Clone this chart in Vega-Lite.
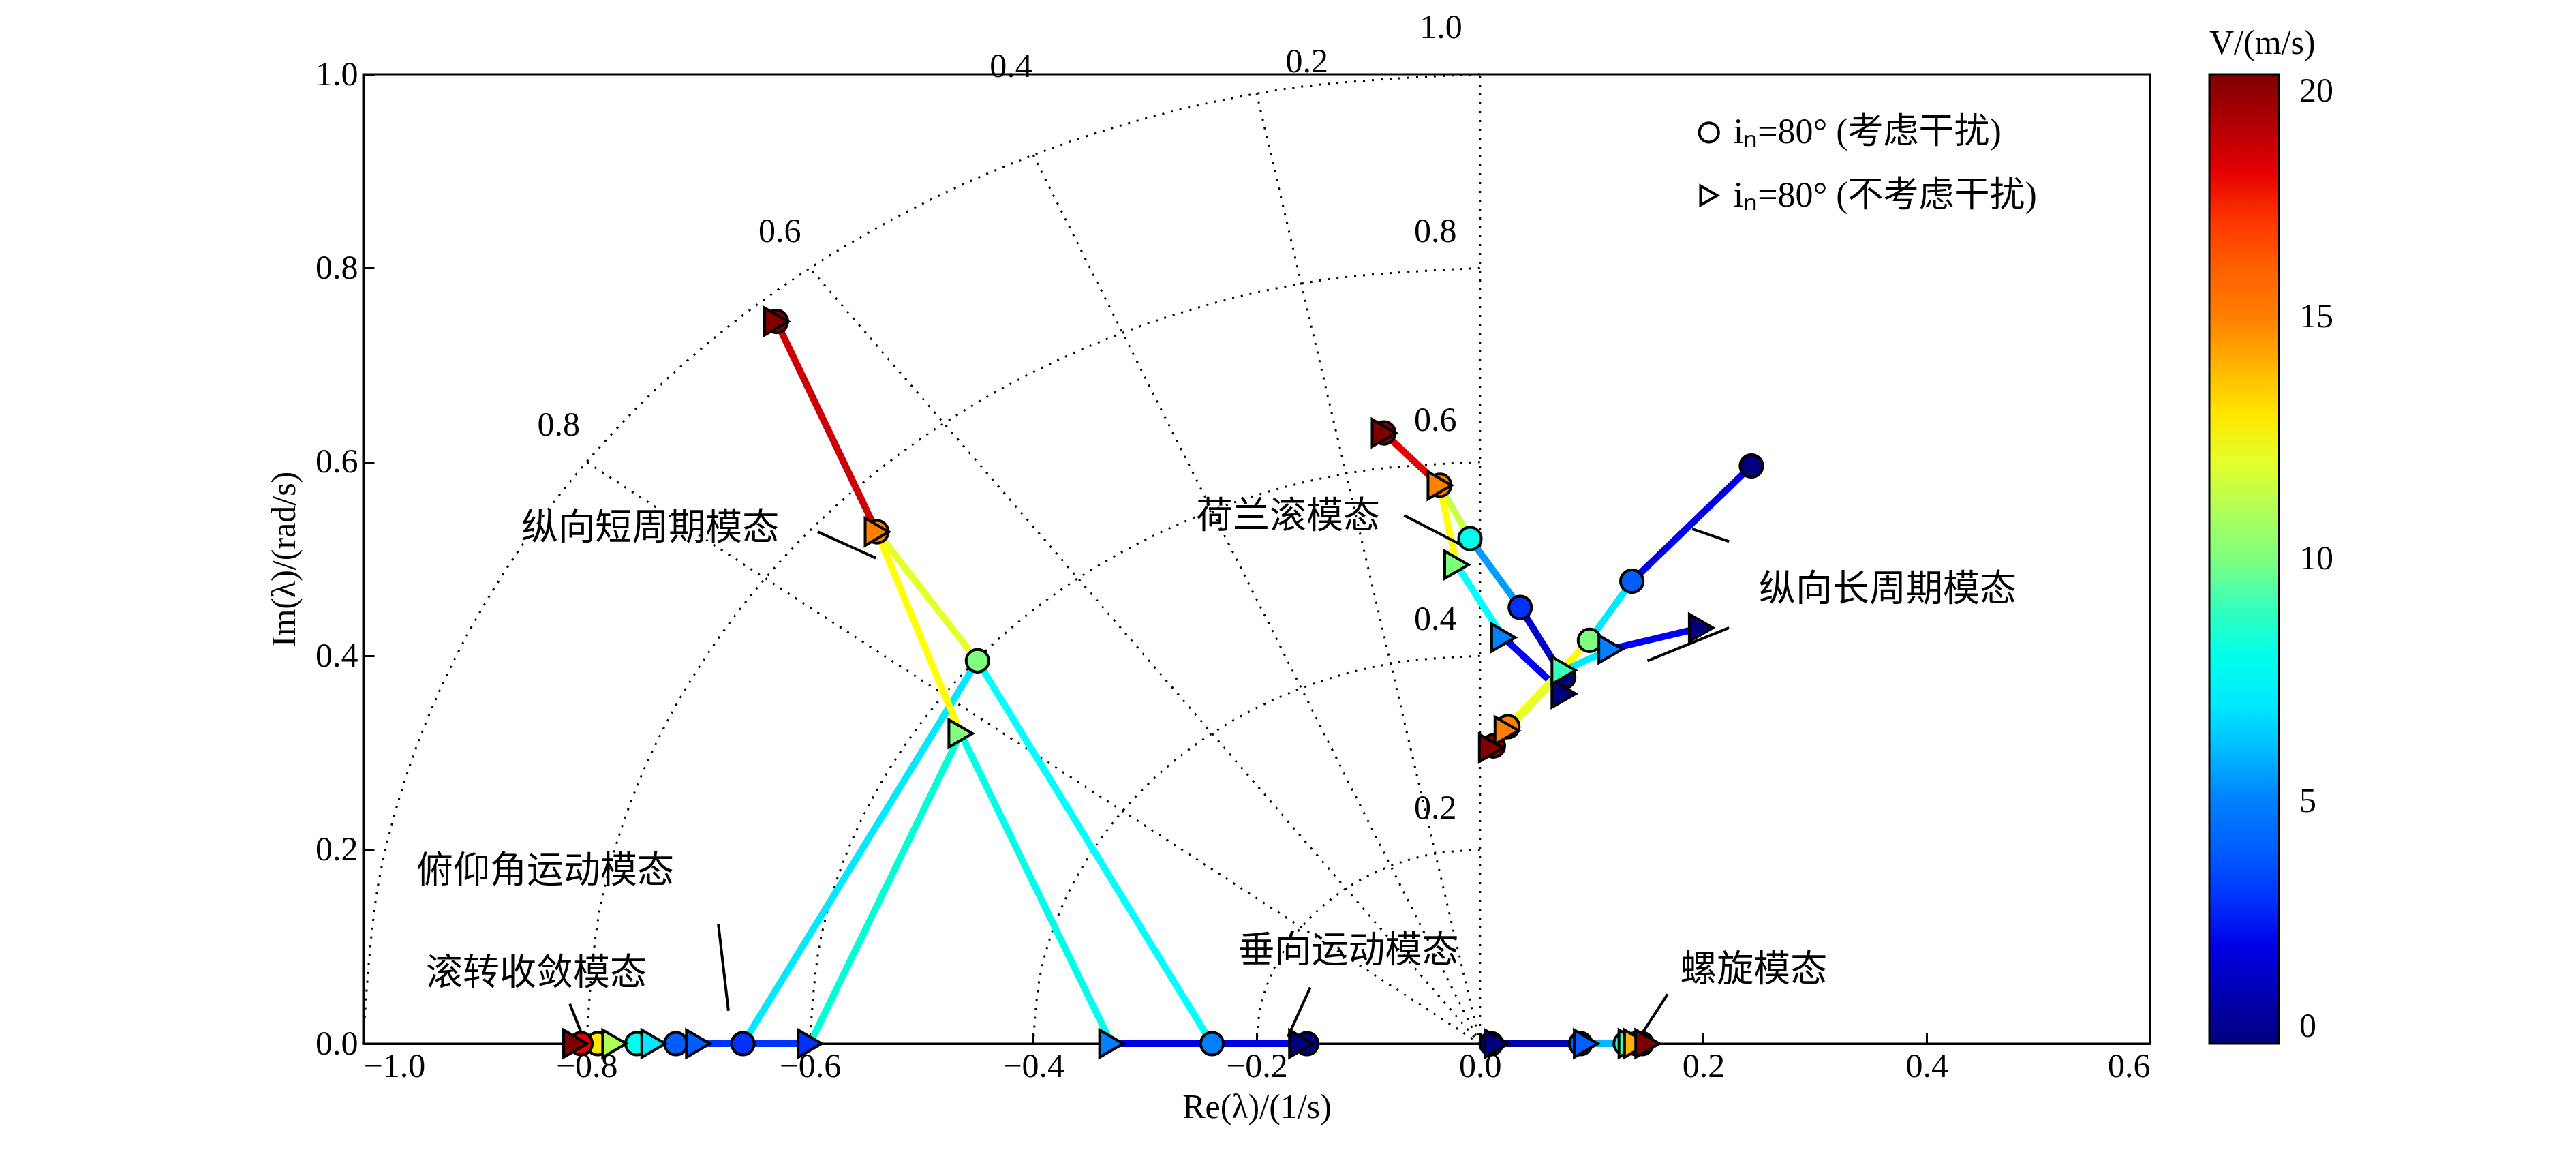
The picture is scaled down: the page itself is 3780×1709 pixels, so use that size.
{
  "$schema": "https://vega.github.io/schema/vega-lite/v6.json",
  "autosize": "none",
  "width": 2622,
  "height": 1422,
  "padding": {"left": 533, "top": 109, "right": 625, "bottom": 178},
  "background": "white",
  "config": {
    "view": {"stroke": "black", "strokeWidth": 3},
    "font": "Liberation Serif",
    "axis": {
      "labelFont": "Liberation Serif", "labelFontSize": 50, "labelColor": "black",
      "titleFont": "Liberation Serif", "titleFontSize": 50, "titleColor": "black", "titleFontWeight": "normal",
      "domainColor": "black", "domainWidth": 3, "tickColor": "black", "tickWidth": 3, "tickSize": -16,
      "grid": false, "labelPadding": 24
    }
  },
  "resolve": {"scale": {"color": "independent", "fill": "independent"}, "legend": {"color": "independent", "fill": "independent"}},
  "datasets": {
    "grid": [
      {"r":0.2,"a":0,"gx":0,"gy":0.2},{"r":0.2,"a":1,"gx":-0.0348,"gy":0.197},{"r":0.2,"a":2,"gx":-0.0684,"gy":0.188},{"r":0.2,"a":3,"gx":-0.1,"gy":0.1732},{"r":0.2,"a":4,"gx":-0.1286,"gy":0.1532},{"r":0.2,"a":5,"gx":-0.1532,"gy":0.1286},{"r":0.2,"a":6,"gx":-0.1732,"gy":0.1},{"r":0.2,"a":7,"gx":-0.188,"gy":0.0684},{"r":0.2,"a":8,"gx":-0.197,"gy":0.0348},{"r":0.2,"a":9,"gx":-0.2,"gy":0},
      {"r":0.4,"a":0,"gx":0,"gy":0.4},{"r":0.4,"a":1,"gx":-0.0696,"gy":0.394},{"r":0.4,"a":2,"gx":-0.1368,"gy":0.376},{"r":0.4,"a":3,"gx":-0.2,"gy":0.3464},{"r":0.4,"a":4,"gx":-0.2572,"gy":0.3064},{"r":0.4,"a":5,"gx":-0.3064,"gy":0.2572},{"r":0.4,"a":6,"gx":-0.3464,"gy":0.2},{"r":0.4,"a":7,"gx":-0.376,"gy":0.1368},{"r":0.4,"a":8,"gx":-0.394,"gy":0.0696},{"r":0.4,"a":9,"gx":-0.4,"gy":0},
      {"r":0.6,"a":0,"gx":0,"gy":0.6},{"r":0.6,"a":1,"gx":-0.1044,"gy":0.591},{"r":0.6,"a":2,"gx":-0.2052,"gy":0.564},{"r":0.6,"a":3,"gx":-0.3,"gy":0.5196},{"r":0.6,"a":4,"gx":-0.3858,"gy":0.4596},{"r":0.6,"a":5,"gx":-0.4596,"gy":0.3858},{"r":0.6,"a":6,"gx":-0.5196,"gy":0.3},{"r":0.6,"a":7,"gx":-0.564,"gy":0.2052},{"r":0.6,"a":8,"gx":-0.591,"gy":0.1044},{"r":0.6,"a":9,"gx":-0.6,"gy":0},
      {"r":0.8,"a":0,"gx":0,"gy":0.8},{"r":0.8,"a":1,"gx":-0.1392,"gy":0.788},{"r":0.8,"a":2,"gx":-0.2736,"gy":0.752},{"r":0.8,"a":3,"gx":-0.4,"gy":0.6928},{"r":0.8,"a":4,"gx":-0.5144,"gy":0.6128},{"r":0.8,"a":5,"gx":-0.6128,"gy":0.5144},{"r":0.8,"a":6,"gx":-0.6928,"gy":0.4},{"r":0.8,"a":7,"gx":-0.752,"gy":0.2736},{"r":0.8,"a":8,"gx":-0.788,"gy":0.1392},{"r":0.8,"a":9,"gx":-0.8,"gy":0},
      {"r":1.0,"a":0,"gx":0,"gy":1.0},{"r":1.0,"a":1,"gx":-0.174,"gy":0.985},{"r":1.0,"a":2,"gx":-0.342,"gy":0.94},{"r":1.0,"a":3,"gx":-0.5,"gy":0.866},{"r":1.0,"a":4,"gx":-0.643,"gy":0.766},{"r":1.0,"a":5,"gx":-0.766,"gy":0.643},{"r":1.0,"a":6,"gx":-0.866,"gy":0.5},{"r":1.0,"a":7,"gx":-0.94,"gy":0.342},{"r":1.0,"a":8,"gx":-0.985,"gy":0.174},{"r":1.0,"a":9,"gx":-1.0,"gy":0}
    ],
    "rays": [
      {"x":0,"y":0,"x2":0,"y2":1.0},
      {"x":0,"y":0,"x2":-0.2,"y2":0.98},
      {"x":0,"y":0,"x2":-0.4,"y2":0.9165},
      {"x":0,"y":0,"x2":-0.6,"y2":0.8},
      {"x":0,"y":0,"x2":-0.8,"y2":0.6}
    ],
    "glabels": [
      {"t":"1.0","x":-0.035,"y":1.03},
      {"t":"0.8","x":-0.04,"y":0.82},
      {"t":"0.6","x":-0.04,"y":0.625},
      {"t":"0.4","x":-0.04,"y":0.42},
      {"t":"0.2","x":-0.04,"y":0.225},
      {"t":"0.2","x":-0.155,"y":0.995},
      {"t":"0.4","x":-0.42,"y":0.99},
      {"t":"0.6","x":-0.627,"y":0.82},
      {"t":"0.8","x":-0.825,"y":0.62}
    ],
    "segs": [
      {"x":-0.63,"y":0.745,"x2":-0.54,"y2":0.528,"v":18.5},
      {"x":-0.54,"y":0.528,"x2":-0.45,"y2":0.395,"v":12},
      {"x":-0.45,"y":0.395,"x2":-0.66,"y2":0,"v":7},
      {"x":-0.45,"y":0.395,"x2":-0.24,"y2":0,"v":7.5},
      {"x":-0.24,"y":0,"x2":-0.155,"y2":0,"v":2},
      {"x":-0.54,"y":0.528,"x2":-0.465,"y2":0.32,"v":12.5},
      {"x":-0.465,"y":0.32,"x2":-0.6,"y2":0,"v":8.5},
      {"x":-0.465,"y":0.32,"x2":-0.33,"y2":0,"v":8},
      {"x":-0.33,"y":0,"x2":-0.16,"y2":0,"v":2},
      {"x":-0.6,"y":0,"x2":-0.7,"y2":0,"v":3},
      {"x":-0.7,"y":0,"x2":-0.74,"y2":0,"v":5.5},
      {"x":-0.74,"y":0,"x2":-0.775,"y2":0,"v":9},
      {"x":-0.775,"y":0,"x2":-0.795,"y2":0,"v":13},
      {"x":-0.795,"y":0,"x2":-0.81,"y2":0,"v":19},
      {"x":-0.086,"y":0.63,"x2":-0.036,"y2":0.576,"v":18},
      {"x":-0.036,"y":0.576,"x2":-0.009,"y2":0.521,"v":11.5},
      {"x":-0.009,"y":0.521,"x2":0.036,"y2":0.45,"v":5.5},
      {"x":0.036,"y":0.45,"x2":0.075,"y2":0.378,"v":1.5},
      {"x":-0.036,"y":0.576,"x2":-0.021,"y2":0.494,"v":12.5},
      {"x":-0.021,"y":0.494,"x2":0.021,"y2":0.419,"v":7.5},
      {"x":0.021,"y":0.419,"x2":0.075,"y2":0.361,"v":2.5},
      {"x":0.243,"y":0.596,"x2":0.136,"y2":0.477,"v":2},
      {"x":0.136,"y":0.477,"x2":0.098,"y2":0.416,"v":7},
      {"x":0.098,"y":0.416,"x2":0.025,"y2":0.327,"v":12.5},
      {"x":0.025,"y":0.327,"x2":0.012,"y2":0.307,"v":17.5},
      {"x":0.198,"y":0.429,"x2":0.117,"y2":0.407,"v":2.5},
      {"x":0.117,"y":0.407,"x2":0.075,"y2":0.385,"v":7},
      {"x":0.075,"y":0.385,"x2":0.024,"y2":0.323,"v":12},
      {"x":0.024,"y":0.323,"x2":0.01,"y2":0.305,"v":17.5},
      {"x":0.01,"y":0,"x2":0.09,"y2":0,"v":1},
      {"x":0.09,"y":0,"x2":0.13,"y2":0,"v":6},
      {"x":0.13,"y":0,"x2":0.14,"y2":0,"v":11},
      {"x":0.14,"y":0,"x2":0.15,"y2":0,"v":17}
    ],
    "pts": [
      {"s":"c","x":-0.63,"y":0.745,"v":20},{"s":"c","x":-0.54,"y":0.528,"v":15},{"s":"c","x":-0.45,"y":0.395,"v":10},
      {"s":"c","x":-0.24,"y":0,"v":5},{"s":"c","x":-0.155,"y":0,"v":0},
      {"s":"c","x":-0.66,"y":0,"v":3},{"s":"c","x":-0.72,"y":0,"v":4},{"s":"c","x":-0.755,"y":0,"v":8},{"s":"c","x":-0.79,"y":0,"v":13},{"s":"c","x":-0.805,"y":0,"v":18},
      {"s":"c","x":-0.086,"y":0.63,"v":20},{"s":"c","x":-0.036,"y":0.576,"v":15},{"s":"c","x":-0.009,"y":0.521,"v":8},{"s":"c","x":0.036,"y":0.45,"v":3},{"s":"c","x":0.075,"y":0.378,"v":0},
      {"s":"c","x":0.243,"y":0.596,"v":0},{"s":"c","x":0.136,"y":0.477,"v":4},{"s":"c","x":0.098,"y":0.416,"v":10},{"s":"c","x":0.025,"y":0.327,"v":15},{"s":"c","x":0.012,"y":0.307,"v":20},
      {"s":"c","x":0.01,"y":0,"v":0},{"s":"c","x":0.09,"y":0,"v":4},{"s":"c","x":0.13,"y":0,"v":9},{"s":"c","x":0.14,"y":0,"v":14},{"s":"c","x":0.145,"y":0,"v":20},
      {"s":"t","x":-0.63,"y":0.745,"v":20},{"s":"t","x":-0.54,"y":0.528,"v":15},{"s":"t","x":-0.465,"y":0.32,"v":10},
      {"s":"t","x":-0.33,"y":0,"v":5},{"s":"t","x":-0.16,"y":0,"v":0},
      {"s":"t","x":-0.6,"y":0,"v":3},{"s":"t","x":-0.7,"y":0,"v":4},{"s":"t","x":-0.74,"y":0,"v":7},{"s":"t","x":-0.775,"y":0,"v":11},{"s":"t","x":-0.81,"y":0,"v":20},
      {"s":"t","x":-0.086,"y":0.63,"v":20},{"s":"t","x":-0.036,"y":0.576,"v":15},{"s":"t","x":-0.021,"y":0.494,"v":10},{"s":"t","x":0.021,"y":0.419,"v":5},{"s":"t","x":0.075,"y":0.361,"v":0},
      {"s":"t","x":0.198,"y":0.429,"v":0},{"s":"t","x":0.117,"y":0.407,"v":5},{"s":"t","x":0.075,"y":0.385,"v":9},{"s":"t","x":0.024,"y":0.323,"v":15},{"s":"t","x":0.01,"y":0.305,"v":20},
      {"s":"t","x":0.015,"y":0,"v":0},{"s":"t","x":0.095,"y":0,"v":4},{"s":"t","x":0.135,"y":0,"v":9},{"s":"t","x":0.14,"y":0,"v":14},{"s":"t","x":0.15,"y":0,"v":20}
    ],
    "notes": [
      {"t":"纵向短周期模态","x":-0.743,"y":0.531},
      {"t":"荷兰滚模态","x":-0.172,"y":0.543},
      {"t":"纵向长周期模态","x":0.365,"y":0.468},
      {"t":"俯仰角运动模态","x":-0.837,"y":0.177},
      {"t":"滚转收敛模态","x":-0.845,"y":0.072},
      {"t":"垂向运动模态","x":-0.118,"y":0.095},
      {"t":"螺旋模态","x":0.245,"y":0.075}
    ],
    "leaders": [
      {"x":-0.593,"y":0.528,"x2":-0.541,"y2":0.501},
      {"x":-0.068,"y":0.545,"x2":-0.016,"y2":0.514},
      {"x":0.19,"y":0.531,"x2":0.223,"y2":0.518},
      {"x":0.15,"y":0.395,"x2":0.223,"y2":0.429},
      {"x":-0.682,"y":0.123,"x2":-0.673,"y2":0.034},
      {"x":-0.815,"y":0.041,"x2":-0.805,"y2":0.012},
      {"x":-0.152,"y":0.058,"x2":-0.172,"y2":0.007},
      {"x":0.168,"y":0.051,"x2":0.146,"y2":0.012}
    ],
    "leg": [
      {"s":"c","x":0.205,"y":0.94,"t":"iₙ=80° (考虑干扰)"},
      {"s":"t","x":0.205,"y":0.875,"t":"iₙ=80° (不考虑干扰)"}
    ]
  },
  "layer": [
    {
      "data": {"name": "grid"},
      "mark": {"type": "line", "color": "black", "strokeWidth": 3, "strokeDash": [3, 10], "interpolate": "cardinal"},
      "encoding": {
        "x": {"field": "gx", "type": "quantitative", "scale": {"domain": [-1, 0.6], "nice": false}, "axis": {"values": [-1, -0.8, -0.6, -0.4, -0.2, 0, 0.2, 0.4, 0.6], "format": ".1f", "title": "Re(λ)/(1/s)", "titlePadding": 10}},
        "y": {"field": "gy", "type": "quantitative", "scale": {"domain": [0, 1], "nice": false}, "axis": {"values": [0, 0.2, 0.4, 0.6, 0.8, 1.0], "format": ".1f", "title": "Im(λ)/(rad/s)", "titlePadding": 20}},
        "detail": {"field": "r"},
        "order": {"field": "a"}
      }
    },
    {
      "data": {"name": "rays"},
      "mark": {"type": "rule", "color": "black", "strokeWidth": 3, "strokeDash": [3, 10]},
      "encoding": {"x": {"field": "x", "type": "quantitative"}, "y": {"field": "y", "type": "quantitative"}, "x2": {"field": "x2"}, "y2": {"field": "y2"}}
    },
    {
      "data": {"name": "glabels"},
      "mark": {"type": "text", "fontSize": 50, "font": "Liberation Serif", "baseline": "bottom"},
      "encoding": {"x": {"field": "x", "type": "quantitative"}, "y": {"field": "y", "type": "quantitative"}, "text": {"field": "t"}}
    },
    {
      "data": {"name": "segs"},
      "mark": {"type": "rule", "strokeWidth": 10, "strokeCap": "round"},
      "encoding": {
        "x": {"field": "x", "type": "quantitative"}, "y": {"field": "y", "type": "quantitative"}, "x2": {"field": "x2"}, "y2": {"field": "y2"},
        "color": {"field": "v", "type": "quantitative", "scale": {"domain": [0, 20], "range": ["#00007f", "#0000ff", "#007fff", "#00ffff", "#7fff7f", "#ffff00", "#ff7f00", "#ff0000", "#7f0000"]}, "legend": null}
      }
    },
    {
      "data": {"name": "pts"},
      "mark": {"type": "point", "filled": true, "stroke": "black", "strokeWidth": 4, "opacity": 1},
      "encoding": {
        "x": {"field": "x", "type": "quantitative"}, "y": {"field": "y", "type": "quantitative"},
        "shape": {"field": "s", "type": "nominal", "scale": {"domain": ["c", "t"], "range": ["circle", "triangle-right"]}, "legend": null},
        "size": {"field": "s", "type": "nominal", "scale": {"domain": ["c", "t"], "range": [1100, 1600]}, "legend": null},
        "fill": {"field": "v", "type": "quantitative", "scale": {"domain": [0, 20], "range": ["#00007f", "#0000ff", "#007fff", "#00ffff", "#7fff7f", "#ffff00", "#ff7f00", "#ff0000", "#7f0000"]},
          "legend": {"type": "gradient", "orient": "none", "legendX": 2709, "legendY": -70, "direction": "vertical", "gradientLength": 1422, "gradientThickness": 102, "gradientStrokeColor": "black", "gradientStrokeWidth": 3, "values": [0, 5, 10, 15, 20], "title": "V/(m/s)", "titleFont": "Liberation Serif", "titleFontSize": 50, "titleFontWeight": "normal", "titleColor": "black", "titlePadding": 20, "labelFont": "Liberation Serif", "labelFontSize": 50, "labelColor": "black", "labelOffset": 30}}
      }
    },
    {
      "data": {"name": "leaders"},
      "mark": {"type": "rule", "color": "black", "strokeWidth": 4},
      "encoding": {"x": {"field": "x", "type": "quantitative"}, "y": {"field": "y", "type": "quantitative"}, "x2": {"field": "x2"}, "y2": {"field": "y2"}}
    },
    {
      "data": {"name": "notes"},
      "mark": {"type": "text", "fontSize": 54, "font": "Liberation Serif, Noto Sans CJK SC", "baseline": "middle"},
      "encoding": {"x": {"field": "x", "type": "quantitative"}, "y": {"field": "y", "type": "quantitative"}, "text": {"field": "t"}}
    },
    {
      "data": {"name": "leg"},
      "mark": {"type": "point", "filled": false, "stroke": "black", "strokeWidth": 4, "opacity": 1},
      "encoding": {
        "x": {"field": "x", "type": "quantitative"}, "y": {"field": "y", "type": "quantitative"},
        "shape": {"field": "s", "type": "nominal", "scale": {"domain": ["c", "t"], "range": ["circle", "triangle-right"]}, "legend": null},
        "size": {"value": 800}
      }
    },
    {
      "data": {"name": "leg"},
      "mark": {"type": "text", "fontSize": 52, "font": "Liberation Serif, Noto Sans CJK SC", "align": "left", "baseline": "middle", "dx": 36},
      "encoding": {"x": {"field": "x", "type": "quantitative"}, "y": {"field": "y", "type": "quantitative"}, "text": {"field": "t"}}
    }
  ]
}
